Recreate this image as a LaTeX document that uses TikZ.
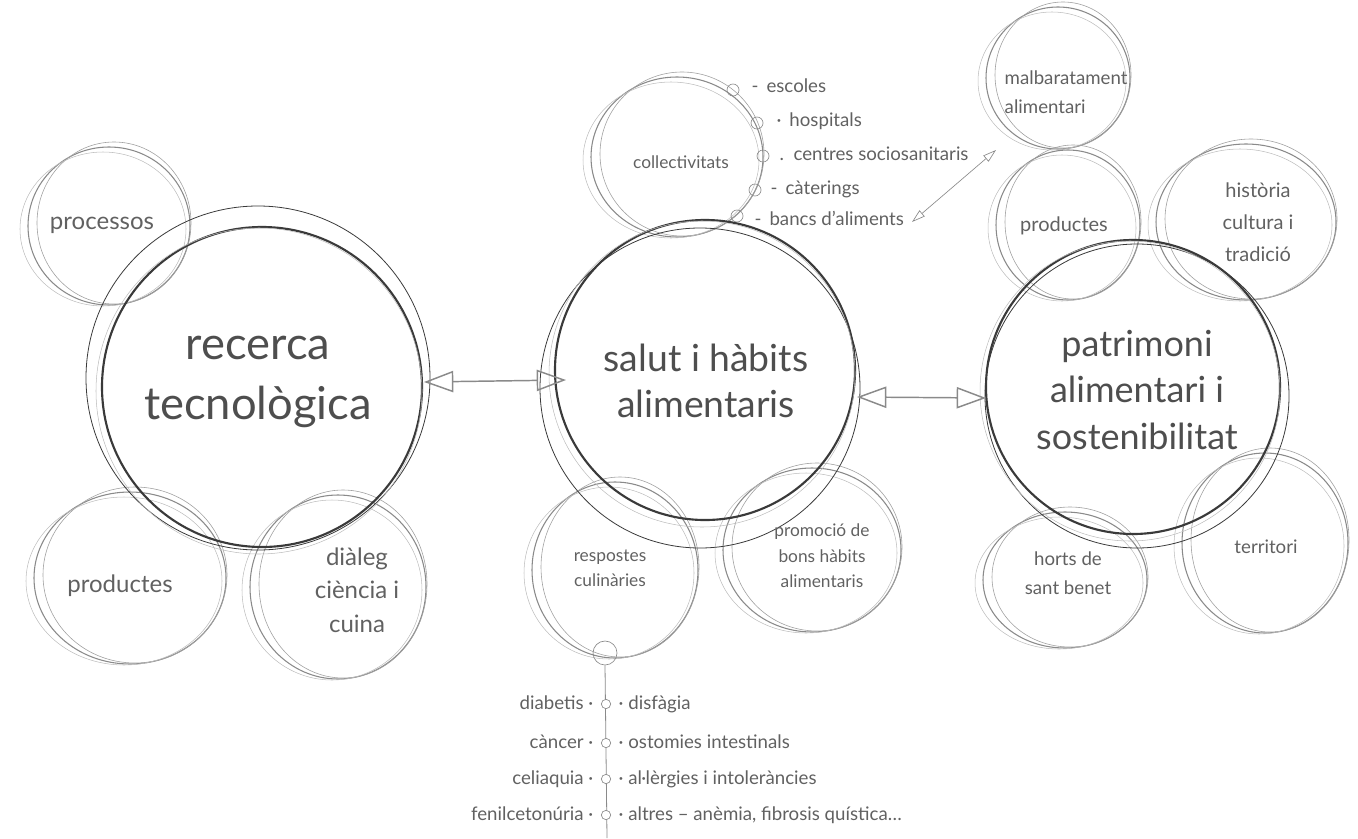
\documentclass[tikz,border=0pt]{standalone}
\usepackage{fontspec}
\setmainfont{Lato}
\usetikzlibrary{arrows.meta}
\definecolor{ink}{HTML}{3A3A3A}
\definecolor{pen}{HTML}{8A8A8A}
\definecolor{faint}{HTML}{BDBDBD}
% main circle: heavy inner ring + thin outer ring
\newcommand\skmain[6]{% x y r  x2 y2 r2
  \draw[ink,line width=1.6pt] (#1,#2) circle (#3);
  \draw[ink,line width=0.6pt] (#4,#5) circle (#6);
  \draw[faint,line width=0.4pt] (#1-3,#2+4) circle (#3+3);}
% small sketched ring (ellipse)
\newcommand\sksmall[4]{% x y rx ry
  \draw[pen,line width=0.8pt] (#1,#2) ellipse (#3 and #4);
  \draw[pen!80,line width=0.45pt] (#1+5,#2-3) ellipse (#3-4 and #4+2);
  \draw[faint,line width=0.4pt] (#1-6,#2+3) ellipse (#3+2 and #4-2);}
\begin{document}
\begin{tikzpicture}[x=0.75pt,y=-0.75pt,
  big/.style={font=\fontsize{34}{45}\selectfont,text=ink!90,align=center},
  mid/.style={font=\fontsize{28}{34}\selectfont,text=ink!90,align=center},
  labl/.style={font=\fontsize{18}{25}\selectfont,text=ink!80,align=center},
  lab/.style={font=\fontsize{15}{24}\selectfont,text=ink!80,align=center},
  sml/.style={font=\fontsize{13}{19}\selectfont,text=ink!80,align=center},
  lst/.style={font=\fontsize{14}{17}\selectfont,text=ink!80},
  dot/.style={draw=pen,line width=0.5pt,circle,inner sep=0pt,minimum size=9pt},
  bigarrow/.style={draw=pen,line width=1.1pt,{Triangle[open,length=22pt,width=16pt]}-{Triangle[open,length=22pt,width=16pt]}},
  thinarrow/.style={draw=pen,line width=0.5pt,{Triangle[open,length=10pt,width=6pt]}-{Triangle[open,length=10pt,width=6pt]}}]
\useasboundingbox (0,0) rectangle (1358,838);
% ---- left cluster
\sksmall{109}{226}{81}{79}
\sksmall{130}{578}{96}{86}
\sksmall{338}{587}{88}{92}
\skmain{262}{387}{160}{258}{378}{172}
\node[big] (rec) at (258,382) {recerca\\tecnològica};
\node[labl] (proc) at (102,225) {processos};
\node[labl] (prodl) at (120,586) {productes};
\node[labl] (dial) at (357,590) {diàleg\\ciència i\\cuina};
% ---- centre cluster
\sksmall{677}{157}{86}{80}
\sksmall{615}{570}{83}{88}
\sksmall{812}{550}{89}{82}
\skmain{705}{370}{150}{700}{388}{160}
\node[mid] (sal) at (706,381) {salut i hàbits\\alimentaris};
\node[sml] (col) at (681,162) {collectivitats};
\node[sml] (resp) at (610,568) {respostes\\culinàries};
\node[sml] (prom) at (822,556) {promoció de\\bons hàbits\\alimentaris};
% collectivitats list
\node[dot] (c1) at (733,90) {};
\node[dot] (c2) at (757,123) {};
\node[dot] (c3) at (763,156) {};
\node[dot] (c4) at (755,190) {};
\node[dot] (c5) at (737,216) {};
\node[lst,anchor=base west] (l1) at (747,93) {-\, escoles};
\node[lst,anchor=base west] (l2) at (772,127) {·\, hospitals};
\node[lst,anchor=base west] (l3) at (775,161) {.\, centres sociosanitaris};
\node[lst,anchor=base west] (l4) at (766,194) {-\, càterings};
\node[lst,anchor=base west] (l5) at (750,225) {-\, bancs d’aliments};
% respostes list
\node[dot,minimum size=18pt] (r0) at (605,653) {};
\coordinate (rend) at (607,838);
\draw[pen,line width=0.6pt] (r0.south) -- (rend);
\node[dot,fill=white,minimum size=7pt] (d1) at (606,704) {};
\node[dot,fill=white,minimum size=7pt] (d2) at (606,743) {};
\node[dot,fill=white,minimum size=7pt] (d3) at (606,779) {};
\node[dot,fill=white,minimum size=7pt] (d4) at (606,815) {};
\node[lst,anchor=base east] (dl1) at (598,709) {diabetis ·};
\node[lst,anchor=base east] (dl2) at (598,748) {càncer ·};
\node[lst,anchor=base east] (dl3) at (598,784) {celiaquia ·};
\node[lst,anchor=base east] (dl4) at (598,820) {fenilcetonúria ·};
\node[lst,anchor=base west] (dr1) at (614,709) {· disfàgia};
\node[lst,anchor=base west] (dr2) at (614,748) {· ostomies intestinals};
\node[lst,anchor=base west] (dr3) at (614,784) {· al·lèrgies i intoleràncies};
\node[lst,anchor=base west] (dr4) at (614,820) {· altres – anèmia, fibrosis quística\ldots};
% ---- right cluster
\sksmall{1058}{78}{72}{71}
\sksmall{1068}{225}{72}{75}
\sksmall{1246}{222}{90}{78}
\sksmall{1265}{543}{83}{90}
\sksmall{1065}{580}{82}{68}
\skmain{1133}{387}{147}{1137}{396}{152}
\node[mid,font=\fontsize{27}{35}\selectfont] (pat) at (1137,390) {patrimoni\\alimentari i\\sostenibilitat};
\node[lab,align=left,font=\fontsize{14}{22}\selectfont,anchor=west] (mal) at (1000,92) {malbaratament\\alimentari};
\node[lab] (prodr) at (1064,226) {productes};
\node[lab] (hist) at (1258,222) {història\\cultura i\\tradició};
\node[lab,font=\fontsize{14}{22}\selectfont] (ter) at (1266,547) {territori};
\node[lab,font=\fontsize{14}{22}\selectfont] (hort) at (1068,573) {horts de\\sant benet};
% ---- arrows
\coordinate (a1) at (424,382);
\coordinate (a2) at (566,380);
\coordinate (b1) at (857,397);
\coordinate (b2) at (986,398);
\coordinate (m1) at (996,150);
\coordinate (m2) at (912,222);
\draw[bigarrow] (a1) -- (a2);
\draw[bigarrow] (b1) -- (b2);
\draw[thinarrow] (m1) -- (m2);
\end{tikzpicture}
\end{document}
